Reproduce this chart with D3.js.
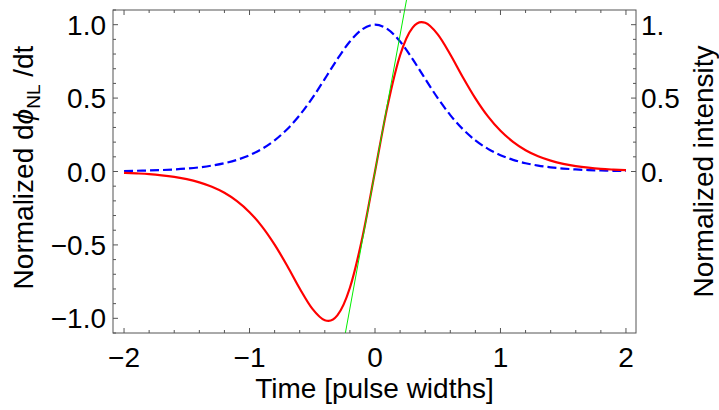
<!DOCTYPE html>
<html>
<head>
<meta charset="utf-8">
<script src="https://cdn.jsdelivr.net/npm/d3@7"></script>
<style>
    body { margin: 0; background: #fff; }
    #chart svg { display: block; }
    text { font-family: "Liberation Sans", Arial, sans-serif; fill: #000; }
</style>
</head>
<body>
<div id="chart"></div>
<script>
    // values
    const timePts = [-2.0, -1.9, -1.8, -1.7, -1.6, -1.5, -1.4, -1.3, -1.2, -1.1, -1.0,
        -0.9, -0.8, -0.7, -0.6, -0.5, -0.4, -0.37, -0.3, -0.2, -0.1, 0.0,
        0.1, 0.2, 0.3, 0.37, 0.4, 0.5, 0.6, 0.7, 0.8, 0.9, 1.0,
        1.1, 1.2, 1.3, 1.4, 1.5, 1.6, 1.7, 1.8, 1.9, 2.0];

    const intensity = [0.0035, 0.0049, 0.0070, 0.0099, 0.0141, 0.0200, 0.0283, 0.0401, 0.0565, 0.0795, 0.1111,
        0.1543, 0.2123, 0.2882, 0.3842, 0.5000, 0.6309, 0.6715, 0.7653, 0.8853, 0.9696, 1.0,
        0.9696, 0.8853, 0.7653, 0.6715, 0.6309, 0.5000, 0.3842, 0.2882, 0.2123, 0.1543, 0.1111,
        0.0795, 0.0565, 0.0401, 0.0283, 0.0200, 0.0141, 0.0099, 0.0070, 0.0049, 0.0035];

    const phaseRate = [-0.009, -0.013, -0.018, -0.026, -0.037, -0.052, -0.074, -0.104, -0.145, -0.202, -0.277,
        -0.375, -0.498, -0.642, -0.797, -0.934, -1.013, -1.017, -0.980, -0.792, -0.447, 0.0,
        0.447, 0.792, 0.980, 1.017, 1.013, 0.934, 0.797, 0.642, 0.498, 0.375, 0.277,
        0.202, 0.145, 0.104, 0.074, 0.052, 0.037, 0.026, 0.018, 0.013, 0.009];

    // tangent at t = 0
    const tangentT = [-0.236, 0.251];
    const tangentV = [-1.1, 1.168];

    const xTicks = [-2, -1, 0, 1, 2];
    const xTickLabels = ["\u22122", "\u22121", "0", "1", "2"];
    const leftTicks = [-1, -0.5, 0, 0.5, 1];
    const leftTickLabels = ["\u22121.0", "\u22120.5", "0.0", "0.5", "1.0"];
    const rightTicks = [0, 0.5, 1];
    const rightTickLabels = ["0.", "0.5", "1."];

    const width = 719;
    const height = 410;
    const margin = { left: 113, right: 83, top: 10, bottom: 77 };
    const tickFont = 28;

    const x = d3.scaleLinear()
        .domain([-2.088, 2.08])
        .range([margin.left, width - margin.right]);

    const y = d3.scaleLinear()
        .domain([-1.1, 1.1])
        .range([height - margin.bottom, margin.top]);

    const svg = d3.select("#chart").append("svg")
        .attr("width", width)
        .attr("height", height);

    const x0 = x.range()[0], x1 = x.range()[1];
    const y0 = y.range()[0], y1 = y.range()[1];

    // ticks, all pointing inward
    const xMinor = d3.range(-20, 21, 2).map(d => d / 10).filter(d => !xTicks.includes(d));
    const leftMinor = d3.range(-11, 12).map(d => d / 10).filter(d => !leftTicks.includes(d));
    const rightMinor = d3.range(0, 11).map(d => d / 10).filter(d => !rightTicks.includes(d));

    const tickG = svg.append("g")
        .attr("stroke", "#555")
        .attr("stroke-width", 1);

    function xTickMarks(vals, len) {
        tickG.selectAll(null).data(vals).join("line")
            .attr("x1", d => x(d)).attr("x2", d => x(d))
            .attr("y1", y0).attr("y2", y0 - len);
        tickG.selectAll(null).data(vals).join("line")
            .attr("x1", d => x(d)).attr("x2", d => x(d))
            .attr("y1", y1).attr("y2", y1 + len);
    }
    xTickMarks(xTicks, 5);
    xTickMarks(xMinor, 3);

    tickG.selectAll(null).data(leftTicks).join("line")
        .attr("x1", x0).attr("x2", x0 + 5)
        .attr("y1", d => y(d)).attr("y2", d => y(d));
    tickG.selectAll(null).data(leftMinor).join("line")
        .attr("x1", x0).attr("x2", x0 + 3)
        .attr("y1", d => y(d)).attr("y2", d => y(d));
    tickG.selectAll(null).data(rightTicks).join("line")
        .attr("x1", x1).attr("x2", x1 - 5)
        .attr("y1", d => y(d)).attr("y2", d => y(d));
    tickG.selectAll(null).data(rightMinor).join("line")
        .attr("x1", x1).attr("x2", x1 - 3)
        .attr("y1", d => y(d)).attr("y2", d => y(d));

    // curves
    const pts = (vals) => timePts.map((t, i) => [t, vals[i]]);
    const line = d3.line()
        .x(d => x(d[0]))
        .y(d => y(d[1]))
        .curve(d3.curveMonotoneX);

    svg.append("path")
        .datum(pts(intensity))
        .attr("fill", "none")
        .attr("stroke", "#0000ff")
        .attr("stroke-width", 2.2)
        .attr("stroke-dasharray", "9,4")
        .attr("d", line);

    svg.append("path")
        .datum(pts(phaseRate))
        .attr("fill", "none")
        .attr("stroke", "#ff0000")
        .attr("stroke-width", 2.2)
        .attr("d", line);

    svg.append("path")
        .datum(tangentT.map((t, i) => [t, tangentV[i]]))
        .attr("fill", "none")
        .attr("stroke", "#00ee00")
        .attr("stroke-width", 1)
        .attr("d", d3.line().x(d => x(d[0])).y(d => y(d[1])));

    // frame
    svg.append("rect")
        .attr("x", x0).attr("y", y1)
        .attr("width", x1 - x0).attr("height", y0 - y1)
        .attr("fill", "none")
        .attr("stroke", "#555")
        .attr("stroke-width", 1);

    // tick labels
    svg.append("g").selectAll("text").data(xTicks).join("text")
        .attr("x", d => x(d))
        .attr("y", y0 + 34)
        .attr("text-anchor", "middle")
        .attr("font-size", tickFont)
        .text((d, i) => xTickLabels[i]);

    svg.append("g").selectAll("text").data(leftTicks).join("text")
        .attr("x", x0 - 7)
        .attr("y", d => y(d) + 10)
        .attr("text-anchor", "end")
        .attr("font-size", tickFont)
        .text((d, i) => leftTickLabels[i]);

    svg.append("g").selectAll("text").data(rightTicks).join("text")
        .attr("x", x1 + 5)
        .attr("y", d => y(d) + 10)
        .attr("text-anchor", "start")
        .attr("font-size", tickFont)
        .text((d, i) => rightTickLabels[i]);

    // axis titles
    svg.append("text")
        .attr("x", (x0 + x1) / 2)
        .attr("y", 398)
        .attr("text-anchor", "middle")
        .attr("font-size", 28)
        .text("Time [pulse widths]");

    const leftTitle = svg.append("text")
        .attr("transform", `translate(33,${(y0 + y1) / 2 - 4}) rotate(-90)`)
        .attr("text-anchor", "middle")
        .attr("font-size", 28);
    leftTitle.append("tspan").text("Normalized d");
    leftTitle.append("tspan").attr("font-style", "italic").text("\u03d5");
    leftTitle.append("tspan").attr("font-size", 19).attr("dy", 7).text("NL");
    leftTitle.append("tspan").attr("dy", -7).text(" /dt");

    svg.append("text")
        .attr("transform", `translate(713,${(y0 + y1) / 2}) rotate(-90)`)
        .attr("text-anchor", "middle")
        .attr("font-size", 28)
        .text("Normalized intensity");
</script>
</body>
</html>
